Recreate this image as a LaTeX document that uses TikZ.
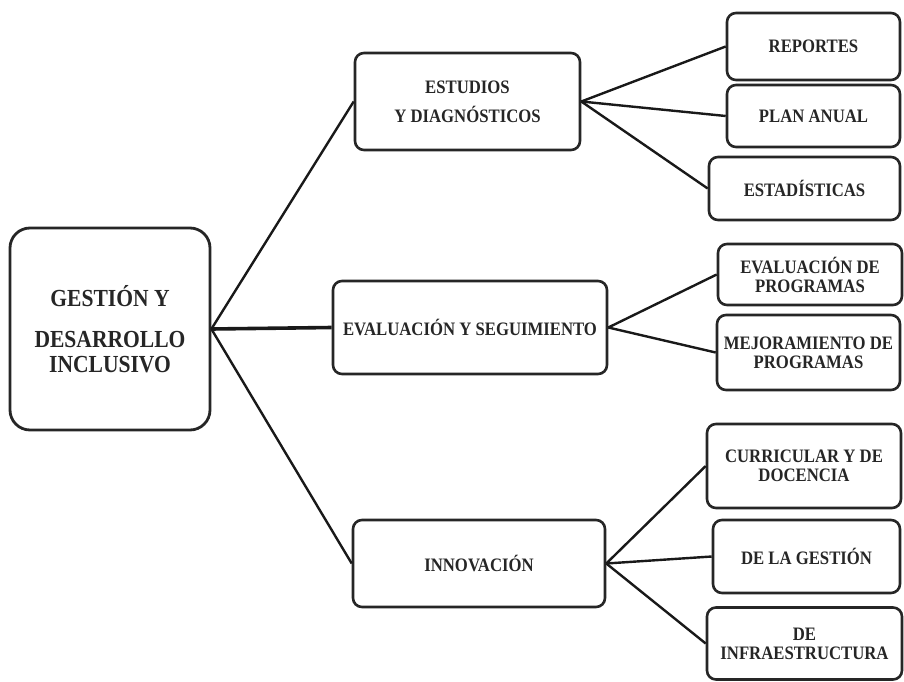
\documentclass[tikz,border=0pt]{standalone}
\usepackage{fontspec}
\setmainfont{Liberation Serif}[FakeStretch=0.88]
\begin{document}
\begin{tikzpicture}[x=1pt,y=-1pt,
  box/.style={draw=black!85, line width=2.6pt, rounded corners=9pt, inner sep=0pt,
    align=center, font=\bfseries\fontsize{19}{19}\selectfont, text=black!85},
  rootbox/.style={box, rounded corners=20pt, line width=2.8pt,
    font=\bfseries\fontsize{24.5}{24.5}\selectfont},
  midbox/.style={box, font=\bfseries\fontsize{19}{29}\selectfont},
  link/.style={draw=black!90, line width=2.4pt},
  biglink/.style={draw=black!90, line width=3.6pt}]
\useasboundingbox (0,0) rectangle (904,682);

% root and second level
\node[rootbox, minimum width=200pt, minimum height=202pt] (root) at (110,329)
  {GESTIÓN Y\\[17pt]DESARROLLO\\INCLUSIVO};
\node[midbox, minimum width=225pt, minimum height=97pt] (est) at (467.5,101.5)
  {ESTUDIOS\\Y DIAGNÓSTICOS};
\node[midbox, minimum width=274pt, minimum height=93pt] (eva) at (470,327.5)
  {EVALUACIÓN Y SEGUIMIENTO};
\node[midbox, minimum width=252pt, minimum height=87pt] (inn) at (479,563.5)
  {INNOVACIÓN};

% third level
\node[box, minimum width=173pt, minimum height=67pt] (rep) at (813.5,46.5) {REPORTES};
\node[box, minimum width=173pt, minimum height=62pt] (plan) at (813.5,116) {PLAN ANUAL};
\node[box, minimum width=191pt, minimum height=63pt] (estad) at (804.5,188.5) {ESTADÍSTICAS};
\node[box, minimum width=184pt, minimum height=61pt] (evp) at (810,274.5)
  {EVALUACIÓN DE\\PROGRAMAS};
\node[box, minimum width=183pt, minimum height=75pt] (mej) at (808.5,352.5)
  {MEJORAMIENTO DE\\PROGRAMAS};
\node[box, minimum width=194pt, minimum height=84pt] (cur) at (804,466)
  {CURRICULAR Y DE\\DOCENCIA};
\node[box, minimum width=187pt, minimum height=73pt] (ges) at (806.5,556.5) {DE LA GESTIÓN};
\node[box, minimum width=195pt, minimum height=72pt] (inf) at (804.5,643.5)
  {DE\\INFRAESTRUCTURA};

% connectors
\draw[link] (root.east) -- (est.west);
\draw[biglink] (root.east) -- (eva.west);
\draw[link] (root.east) -- (inn.west);
\draw[link] (est.east) -- (rep.west);
\draw[link] (est.east) -- (plan.west);
\draw[link] (est.east) -- (estad.west);
\draw[link] (eva.east) -- (evp.west);
\draw[link] (eva.east) -- (mej.west);
\draw[link] (inn.east) -- (cur.west);
\draw[link] (inn.east) -- (ges.west);
\draw[link] (inn.east) -- (inf.west);
\end{tikzpicture}
\end{document}
